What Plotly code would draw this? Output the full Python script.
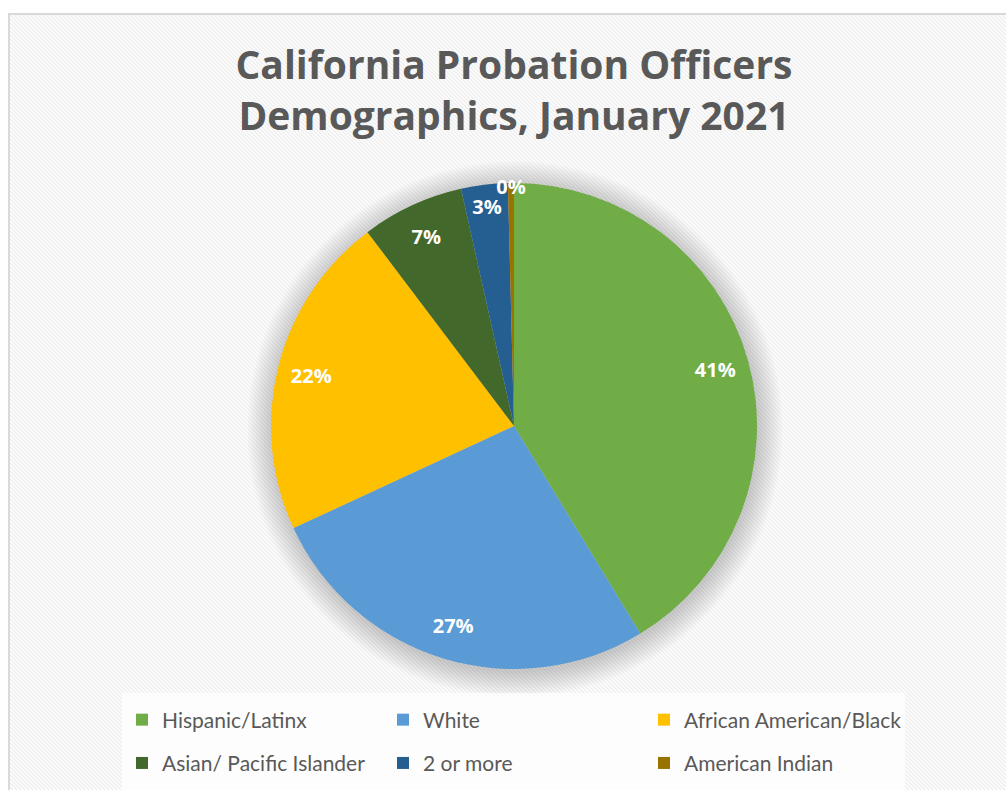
import base64
import plotly.graph_objects as go

# ---- data ----
categories = ["Hispanic/Latinx", "White", "African American/Black",
              "Asian/ Pacific Islander", "2 or more", "American Indian"]
shares = [41.3, 26.8, 21.6, 6.8, 3.1, 0.4]
colors = ["#70AD47", "#5B9BD5", "#FFC000", "#43682B", "#255E91", "#997300"]
title_text = "California Probation Officers<br>Demographics, January 2021"

W, H = 1006, 790

def px(x):
    return x / W

def py(y):
    return 1 - y / H

# hatched background (Excel-style light diagonal)
fw, fh = 997, 776
svg = f'''<svg xmlns="http://www.w3.org/2000/svg" width="{fw}" height="{fh}">
<defs><pattern id="p" patternUnits="userSpaceOnUse" width="4" height="4">
<rect width="4" height="4" fill="#ffffff"/>
<path d="M-1,-1 L5,5 M-1,3 L1,5 M3,-1 L5,1" stroke="#ededed" stroke-width="1.3"/>
</pattern></defs>
<rect width="{fw}" height="{fh}" fill="url(#p)"/></svg>'''
src = "data:image/svg+xml;base64," + base64.b64encode(svg.encode()).decode()

legend_labels = [f'<span style="font-size:21px;baseline-shift:4px">{c}</span>'
                 for c in categories]

cx, cy, R = 514, 426, 243
dom = dict(x=[px(cx - R), px(cx + R)], y=[py(cy + R), py(cy - R)])

# filled pie (slices)
pie = go.Pie(
    labels=legend_labels, values=shares, sort=False, direction="clockwise",
    rotation=0, marker=dict(colors=colors, line=dict(width=0)),
    textinfo="none", hoverinfo="skip", domain=dom,
)
# transparent ring on top carrying the percentage labels near the rim
ring = go.Pie(
    labels=legend_labels, values=shares, sort=False, direction="clockwise",
    rotation=0, hole=0.72, showlegend=False,
    marker=dict(colors=["rgba(0,0,0,0)"] * len(shares), line=dict(width=0)),
    texttemplate="%{percent:.0%}", textposition="inside",
    insidetextorientation="horizontal",
    textfont=dict(family="Open Sans", size=20, color="white", weight="bold"),
    hoverinfo="skip", domain=dom,
)
fig = go.Figure([pie, ring])

shapes = []
# soft shadow around pie
for i in range(10):
    r = R + 1 + 2.6 * i
    shapes.append(dict(type="circle", xref="paper", yref="paper", layer="below",
                       x0=px(cx + 1 - r), x1=px(cx + 1 + r),
                       y0=py(cy + 3 + r), y1=py(cy + 3 - r),
                       fillcolor="rgba(0,0,0,0.018)", line=dict(width=0)))
# frame
shapes.append(dict(type="rect", xref="paper", yref="paper", layer="below",
                   x0=px(9), x1=px(1012), y0=py(14), y1=py(800),
                   fillcolor="rgba(0,0,0,0)", line=dict(color="#d9d9d9", width=2)))

fig.update_layout(
    width=W, height=H,
    margin=dict(l=0, r=0, t=0, b=0),
    paper_bgcolor="white",
    font=dict(family="Lato", color="#595959"),
    title=dict(text=title_text, x=px(514), xanchor="center",
               y=py(79), yanchor="top", yref="container",
               font=dict(family="Open Sans", size=39, color="#595959", weight="bold")),
    showlegend=True,
    legend=dict(orientation="h", x=px(122), xanchor="left",
                y=py(693), yanchor="top",
                entrywidth=216, entrywidthmode="pixels",
                bgcolor="rgba(255,255,255,0.75)", borderwidth=0,
                font=dict(family="Lato", size=31, color="#595959"),
                traceorder="normal"),
    uniformtext=dict(minsize=20, mode="show"),
    images=[dict(source=src, xref="paper", yref="paper", x=px(9), y=py(14),
                 sizex=fw / W, sizey=fh / H, xanchor="left", yanchor="top",
                 sizing="stretch", layer="below")],
    shapes=shapes,
)

fig.write_html("out.html")
